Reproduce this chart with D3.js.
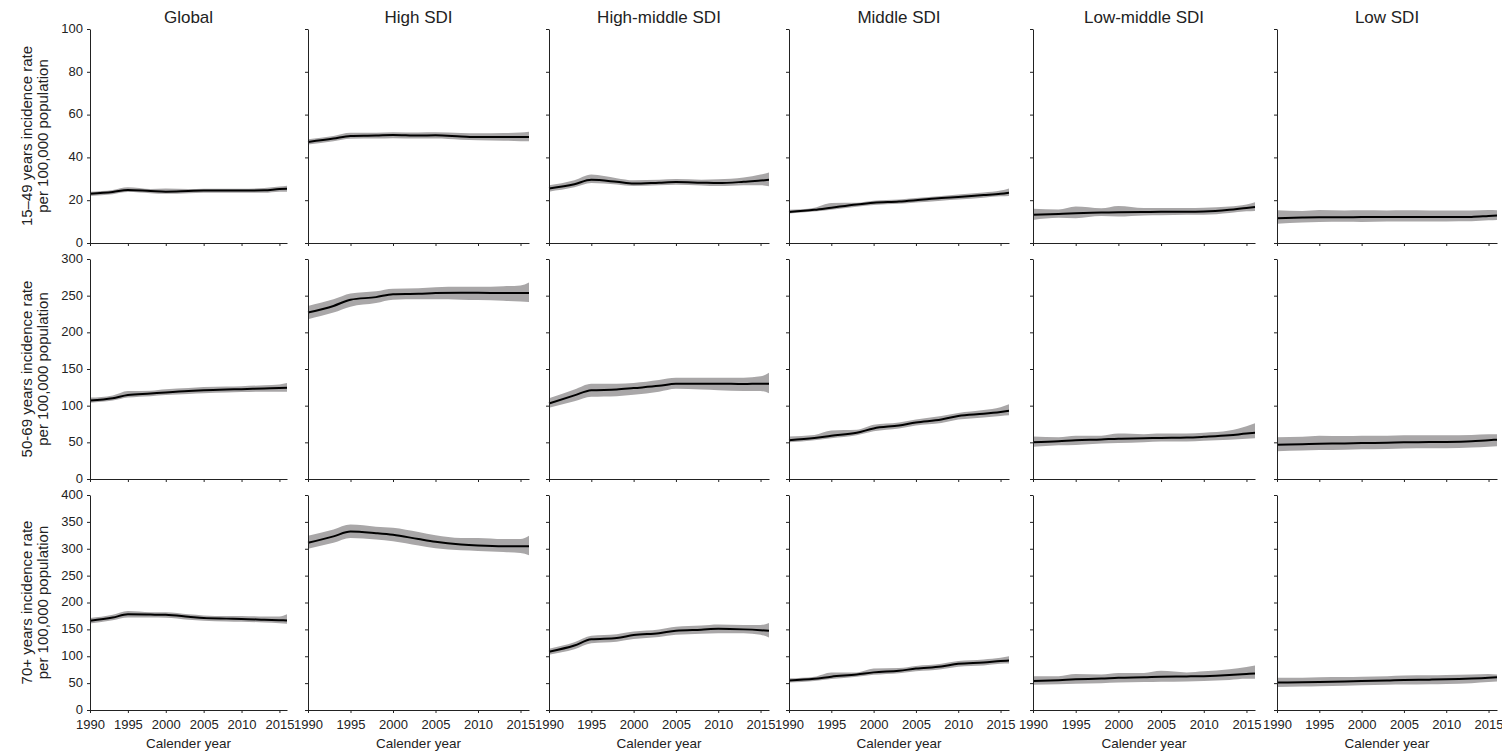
<!DOCTYPE html>
<html>
<head>
<meta charset="utf-8">
<script src="https://cdn.jsdelivr.net/npm/d3@7"></script>
<style>
  body { margin: 0; background: #fff; }
  svg { font-family: "Liberation Sans", Arial, sans-serif; }
  .axis path, .axis line { stroke: #222; }
  .axis text { fill: #222; font-size: 13px; }
</style>
</head>
<body>
<svg id="chart" width="1502" height="751"></svg>
<script>
// data
const years = [1990, 1993, 1995, 1998, 2000, 2003, 2005, 2008, 2010, 2013, 2015, 2016]
const regions = ['Global', 'High SDI', 'High-middle SDI', 'Middle SDI', 'Low-middle SDI', 'Low SDI']
const ageLabels = ['15–49 years incidence rate', '50-69 years incidence rate', '70+ years incidence rate']
const xTicks = [1990, 1995, 2000, 2005, 2010, 2015]
const yMax = [100, 300, 400]
const yTicks = [
  [0, 20, 40, 60, 80, 100],
  [0, 50, 100, 150, 200, 250, 300],
  [0, 50, 100, 150, 200, 250, 300, 350, 400]
]

// 15-49 years
const mean1549 = [
  [23, 23.8, 24.8, 24.3, 24, 24.3, 24.5, 24.5, 24.5, 24.6, 25.2, 25.3],
  [47.2, 48.8, 50, 50.2, 50.5, 50.2, 50.3, 49.8, 49.5, 49.5, 49.5, 49.5],
  [25.5, 27.5, 29.5, 28.6, 27.8, 28.2, 28.5, 28.2, 28, 28.6, 29.2, 29.5],
  [14.5, 15.5, 16.5, 18, 18.8, 19.4, 20, 21, 21.5, 22.4, 23, 23.5],
  [13.2, 13.6, 13.9, 14.2, 14.4, 14.5, 14.6, 14.6, 14.7, 15.5, 16.4, 16.8],
  [11.6, 11.9, 12, 12, 12.1, 12.1, 12.1, 12.1, 12.1, 12.2, 12.6, 12.8]
]
const low1549 = [
  [22, 22.8, 23.8, 23.3, 23, 23.3, 23.5, 23.5, 23.5, 23.5, 24, 24],
  [46, 47.5, 48.7, 48.8, 49, 48.8, 48.8, 48.3, 48, 47.8, 47.6, 47.5],
  [24, 26, 28, 27.3, 26.6, 27, 27.2, 26.9, 26.6, 27, 27, 26.5],
  [13.8, 14.7, 15.5, 16.9, 17.7, 18.3, 18.9, 19.8, 20.3, 21.2, 21.8, 22],
  [10.8, 11.8, 11.6, 12.6, 12.4, 12.9, 13, 13.2, 13.2, 14, 14.8, 15],
  [9, 9.6, 9.8, 9.9, 9.8, 10, 10, 10, 10.1, 10.2, 10.6, 10.8]
]
const high1549 = [
  [24, 24.8, 26, 25.2, 25.5, 25.2, 25.4, 25.4, 25.4, 25.7, 26.4, 26.8],
  [48.5, 50, 51.5, 51.5, 51.8, 51.6, 51.7, 51.4, 51.3, 51.4, 51.6, 52],
  [27, 29.3, 32, 30.3, 29.3, 29.5, 29.9, 29.6, 29.8, 30.6, 32, 33],
  [15.5, 16.5, 18.7, 18.8, 19.7, 20.3, 21, 22, 22.7, 23.6, 24.5, 25.5],
  [16, 15.6, 17, 16.2, 17.3, 16.3, 16.4, 16.4, 16.5, 17, 18, 19],
  [15.3, 15, 15.4, 15.2, 15.3, 15.2, 15.3, 15.2, 15.2, 15.2, 15.4, 15.3]
]

// 50-69 years
const mean5069 = [
  [107, 110, 114.5, 116.5, 118, 120, 121, 122, 122.5, 123.5, 124, 124.5],
  [227, 236, 244.5, 248, 252, 252.5, 253.5, 254, 254, 253.5, 253.5, 253.6],
  [103, 114, 121, 122, 124, 127, 130, 130, 130, 129.5, 130, 130],
  [53, 56, 59, 63, 69, 73, 77, 81, 86, 89, 91.5, 93],
  [50, 51.5, 53, 54, 55, 55.5, 56, 56.5, 57.5, 59.5, 62, 63],
  [46.8, 47.5, 48, 48.5, 49, 49.5, 50, 50.3, 50.5, 51.5, 53, 53.6]
]
const low5069 = [
  [104, 107, 111, 113, 114.5, 116, 117, 118, 118.5, 119, 119, 119],
  [218, 227, 235, 240, 244.5, 245, 245, 244.5, 244, 243, 242, 241.5],
  [97, 106, 112, 113, 115, 119, 123, 122, 121, 120, 120, 117],
  [50, 53, 55.5, 59.5, 65, 69, 73, 76.5, 81, 84, 86, 87],
  [44, 46, 46.5, 48.5, 49, 50, 51, 51, 52, 53.5, 55, 55.5],
  [38, 39, 39.5, 40, 40.5, 41, 41.5, 42, 42, 43, 44, 44.5]
]
const high5069 = [
  [111, 114, 120, 120.5, 122.5, 124, 125.5, 126, 126.5, 128, 129, 131],
  [236, 245, 253, 256, 259.5, 260, 261.5, 262, 262, 263, 264, 268],
  [110, 122, 130, 130, 131, 135, 138, 138, 138, 138, 140, 145],
  [58, 60, 66, 67, 74, 77, 81, 86, 90, 94, 98, 102],
  [58, 57, 59, 59, 62, 61, 62, 62, 63, 66, 72, 76],
  [57, 57.5, 59, 58.5, 59, 59, 59.5, 59.5, 59.5, 60, 61, 61]
]

// 70+ years
const mean70 = [
  [166, 172, 178, 177.5, 177, 173.5, 171, 170, 169.5, 168, 167, 166.5],
  [311, 323, 332, 329, 326, 318, 313, 308, 306, 304.5, 304.5, 304.5],
  [108.5, 120, 131.5, 134, 139.5, 143, 147.5, 149.5, 151, 150, 148.5, 147.5],
  [55, 58, 62, 66, 70, 73, 77, 81, 86, 88.5, 91, 92],
  [54, 55.5, 57, 58.5, 60, 61, 62, 62.5, 63, 65, 67, 68],
  [51, 51.5, 52, 53, 54, 55, 56, 56.5, 57, 58.5, 60, 61]
]
const low70 = [
  [161, 167, 172, 172, 171.5, 168, 166, 164.5, 164, 163, 161.5, 160.5],
  [300, 311, 320, 317, 314, 306, 301, 297, 296, 294, 292, 288],
  [103, 113, 124, 127, 132, 136, 140, 142, 143, 143, 140, 135],
  [51, 54, 57.5, 62, 65.5, 68.5, 72, 76, 80.5, 83, 86, 86.5],
  [47, 48, 49, 50, 51, 52, 52.5, 53, 54, 56, 58, 58],
  [43, 43.5, 44, 45, 46, 47, 47.5, 48, 48.5, 50, 52, 53]
]
const high70 = [
  [171, 177, 184, 182, 182, 178, 176, 175, 175, 174, 174, 178],
  [324, 336, 345, 341, 339, 331, 325, 320, 320, 318, 318, 324],
  [114, 126, 138, 141, 146, 150, 155, 157, 159, 158, 158, 162],
  [59, 62, 70, 70, 77, 78, 82, 86, 91, 94, 97, 100],
  [63, 63, 67, 66, 69, 69, 73, 70, 72, 76, 80, 83],
  [60, 60, 61, 61.5, 62, 63, 64, 64.5, 65, 66, 67, 66]
]

const means = [mean1549, mean5069, mean70]
const lows = [low1549, low5069, low70]
const highs = [high1549, high5069, high70]

// layout
const colX = [[90, 287], [308, 529], [549, 769], [789, 1009], [1033, 1255], [1277, 1497]]
const rowY = [[29, 243], [259, 479], [495, 710]]

const svg = d3.select('#chart')

regions.forEach(function(reg, c) {
  svg.append('text')
    .text(reg)
    .attr('x', (colX[c][0] + colX[c][1]) / 2)
    .attr('y', 23)
    .attr('text-anchor', 'middle')
    .attr('font-size', '17px')
    .attr('fill', '#222')
})

rowY.forEach(function(ry, r) {
  const y = d3.scaleLinear([0, yMax[r]], [ry[1], ry[0]])

  // y label
  const cy = (ry[0] + ry[1]) / 2
  const lab = svg.append('text')
    .attr('transform', 'translate(0,' + cy + ') rotate(-90)')
    .attr('text-anchor', 'middle')
    .attr('font-size', '15px')
    .attr('fill', '#222')
  lab.append('tspan').attr('x', 0).attr('y', 32).text(ageLabels[r])
  lab.append('tspan').attr('x', 0).attr('y', 48).text('per 100,000 population')

  regions.forEach(function(reg, c) {
    const x = d3.scaleLinear([1990, 2016], colX[c])
    const g = svg.append('g')

    const rows = years.map(function(yr, i) {
      return {year: yr, m: means[r][c][i], lo: lows[r][c][i], hi: highs[r][c][i]}
    })

    g.append('path')
      .datum(rows)
      .attr('fill', '#a9a7a8')
      .attr('d', d3.area()
        .x(d => x(d.year))
        .y0(d => y(d.lo))
        .y1(d => y(d.hi))
        .curve(d3.curveMonotoneX))

    g.append('path')
      .datum(rows)
      .attr('fill', 'none')
      .attr('stroke', '#000')
      .attr('stroke-width', 2)
      .attr('d', d3.line()
        .x(d => x(d.year))
        .y(d => y(d.m))
        .curve(d3.curveMonotoneX))

    const xAxis = d3.axisBottom(x)
      .tickValues(xTicks)
      .tickSize(3)
      .tickSizeOuter(0)
      .tickPadding(7)
      .tickFormat(r === 2 ? d3.format('d') : '')
    g.append('g')
      .attr('class', 'axis')
      .attr('transform', 'translate(0,' + ry[1] + ')')
      .call(xAxis)

    const yAxis = d3.axisLeft(y)
      .tickValues(yTicks[r])
      .tickSize(3)
      .tickSizeOuter(0)
      .tickPadding(4)
      .tickFormat(c === 0 ? d3.format('d') : '')
    const ya = g.append('g')
      .attr('class', 'axis')
      .attr('transform', 'translate(' + colX[c][0] + ',0)')
      .call(yAxis)
    ya.selectAll('text').attr('dy', '0.26em')

    if (r === 2) {
      g.append('text')
        .text('Calender year')
        .attr('x', (colX[c][0] + colX[c][1]) / 2)
        .attr('y', 748)
        .attr('text-anchor', 'middle')
        .attr('font-size', '13.5px')
        .attr('fill', '#222')
    }
  })
})
</script>
</body>
</html>
